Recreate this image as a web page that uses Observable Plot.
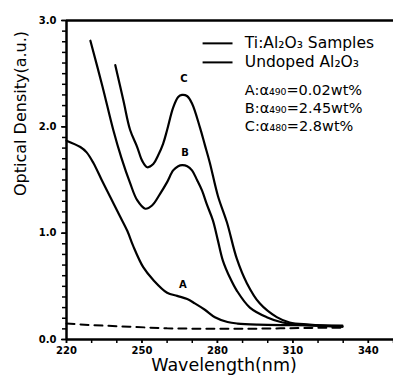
<!DOCTYPE html>
<html>
<head>
<meta charset="utf-8">
<script src="https://cdn.jsdelivr.net/npm/d3@7"></script>
<script src="https://cdn.jsdelivr.net/npm/@observablehq/plot@0.6"></script>
<style>
  body { margin: 0; background: #fff; }
  #chart { width: 393px; height: 376px; }
  svg { font-family: "DejaVu Sans", sans-serif; }
</style>
</head>
<body>
<div id="chart"></div>
<script>
// Curve A (Ti:Al2O3, 0.02 wt%)
const wlA = [220, 225.5, 228, 230.7, 234, 237.4, 241, 244.2, 246.5, 250.5, 254.5, 260, 264, 268, 271, 275, 279, 284, 288, 296, 310, 329.7];
const odA = [1.87, 1.81, 1.76, 1.66, 1.50, 1.34, 1.17, 1.02, 0.88, 0.68, 0.56, 0.44, 0.41, 0.38, 0.34, 0.28, 0.21, 0.165, 0.15, 0.14, 0.135, 0.13];
// Curve B (2.45 wt%)
const wlB = [229.5, 234.3, 238.6, 241.8, 245.3, 248.1, 251.3, 254, 257.2, 260, 262.4, 264.4, 266, 268, 269.9, 271.9, 273.9, 275.8, 278.2, 280.2, 282.2, 285, 287.7, 292.9, 299.6, 305.9, 312.7, 329.7];
const odB = [2.81, 2.38, 1.97, 1.71, 1.47, 1.31, 1.23, 1.26, 1.37, 1.48, 1.59, 1.63, 1.64, 1.63, 1.59, 1.50, 1.40, 1.27, 1.12, 0.93, 0.74, 0.58, 0.46, 0.30, 0.21, 0.16, 0.14, 0.12];
// Curve C (2.8 wt%)
const wlC = [239.4, 242.6, 245.3, 248.1, 250.1, 252.1, 254.5, 256.4, 258.4, 260, 262.4, 264.4, 265.9, 267.9, 269.9, 273.1, 275, 277, 280.2, 283.8, 287.7, 291.7, 296.8, 303.6, 308.7, 316.6, 329.7];
const odC = [2.58, 2.25, 1.97, 1.81, 1.68, 1.62, 1.65, 1.73, 1.84, 1.97, 2.18, 2.28, 2.30, 2.29, 2.22, 1.99, 1.83, 1.66, 1.35, 1.10, 0.76, 0.53, 0.34, 0.21, 0.16, 0.14, 0.12];
// Undoped Al2O3 (dashed)
const wlU = [220, 230, 245, 260, 275, 290, 305, 320, 330];
const odU = [0.15, 0.135, 0.12, 0.105, 0.10, 0.10, 0.105, 0.11, 0.11];

// Curve labels
const curveNames = ["A", "B", "C"];
const curveLabelX = [266.3, 267.1, 266.7];
const curveLabelY = [0.51, 1.76, 2.45];

// Legend & annotations
const legendTexts = ["Ti:Al₂O₃ Samples", "Undoped Al₂O₃"];
const legendY = [2.785, 2.606];
const legendLineX1 = 274.3, legendLineX2 = 286.2, legendTextX = 290.9;
const noteTexts = ["A:α₄₉₀=0.02wt%", "B:α₄₉₀=2.45wt%", "C:α₄₈₀=2.8wt%"];
const noteY = [2.34, 2.17, 2.0];

// Axes
const xMajor = [220, 250, 280, 310, 340];
const xMinor = d3.range(220, 351, 10);
const yMajor = [0, 1, 2, 3];
const yMinor = d3.range(31).map(i => i / 10);

const toRows = (wl, od) => wl.map((w, i) => ({wl: w, od: od[i]}));
const A = toRows(wlA, odA), B = toRows(wlB, odB), C = toRows(wlC, odC), U = toRows(wlU, odU);

const chart = Plot.plot({
  width: 393,
  height: 376,
  marginLeft: 66,
  marginRight: 0,
  marginTop: 20,
  marginBottom: 37,
  x: {domain: [220, 350]},
  y: {domain: [0, 3]},
  marks: [
    Plot.axisY({ticks: yMinor, tickFormat: () => "", tickSize: 4, strokeWidth: 1.5, label: null}),
    Plot.axisY({ticks: yMajor, tickFormat: d => d.toFixed(1), tickSize: 5, tickPadding: 5, fontSize: 10, fontWeight: "bold", strokeWidth: 1.5, label: null}),
    Plot.axisX({ticks: xMinor, tickFormat: () => "", tickSize: 4, strokeWidth: 1.5, label: null}),
    Plot.axisX({ticks: xMajor, tickFormat: d => String(d), tickSize: 4, tickPadding: 3, fontSize: 10, fontWeight: "bold", strokeWidth: 1.5, label: null}),
    Plot.ruleX([220], {strokeWidth: 2.5}),
    Plot.ruleY([0], {strokeWidth: 2.5}),
    Plot.ruleY([3], {strokeWidth: 2.5}),
    Plot.line(U, {x: "wl", y: "od", stroke: "black", strokeWidth: 2, strokeDasharray: "8,6"}),
    Plot.line(A, {x: "wl", y: "od", stroke: "black", strokeWidth: 2.2, curve: "catmull-rom"}),
    Plot.line(B, {x: "wl", y: "od", stroke: "black", strokeWidth: 2.2, curve: "catmull-rom"}),
    Plot.line(C, {x: "wl", y: "od", stroke: "black", strokeWidth: 2.2, curve: "catmull-rom"}),
    Plot.text(curveNames, {x: (d, i) => curveLabelX[i], y: (d, i) => curveLabelY[i], text: d => d, fontSize: 10, fontWeight: "bold"}),
    Plot.ruleY(legendY, {x1: legendLineX1, x2: legendLineX2, strokeWidth: 2}),
    Plot.text(legendTexts, {x: legendTextX, y: (d, i) => legendY[i], text: d => d, textAnchor: "start", fontSize: 15.5}),
    Plot.text(noteTexts, {x: legendTextX, y: (d, i) => noteY[i], text: d => d, textAnchor: "start", fontSize: 14.5}),
    Plot.text(["Optical Density(a.u.)"], {frameAnchor: "left", rotate: -90, dx: -46, dy: 16, text: d => d, fontSize: 16}),
    Plot.text(["Wavelength(nm)"], {frameAnchor: "bottom", dy: 31, dx: -6, text: d => d, fontSize: 17.5})
  ]
});
document.getElementById("chart").appendChild(chart);
</script>
</body>
</html>
